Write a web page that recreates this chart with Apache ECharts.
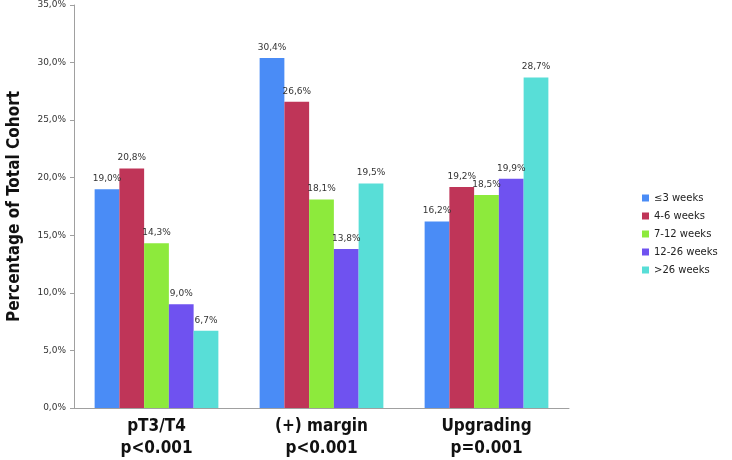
<!DOCTYPE html>
<html>
<head>
<meta charset="utf-8">
<script src="https://cdn.jsdelivr.net/npm/echarts@6/dist/echarts.min.js"></script>
<style>
  html, body { margin: 0; padding: 0; background: #fff; }
  #chart { width: 732px; height: 460px; }
</style>
</head>
<body>
<div id="chart"></div>
<script>
// categories and series
const categories = ['pT3/T4\np<0.001', '(+) margin\np<0.001', 'Upgrading\np=0.001'];
const seriesNames = ['≤3 weeks', '4-6 weeks', '7-12 weeks', '12-26 weeks', '>26 weeks'];
const seriesColors = ['#4a8cf6', '#bf3558', '#8dea3c', '#6f52f0', '#58ded7'];
const w3 = [19.0, 30.4, 16.2];
const w4to6 = [20.8, 26.6, 19.2];
const w7to12 = [14.3, 18.1, 18.5];
const w12to26 = [9.0, 13.8, 19.9];
const wOver26 = [6.7, 19.5, 28.7];
const values = [w3, w4to6, w7to12, w12to26, wOver26];

const fmt = v => v.toFixed(1).replace('.', ',') + '%';
const narrow = 'DejaVu Sans';

const chart = echarts.init(document.getElementById('chart'));
chart.setOption({
  animation: false,
  grid: { left: 74, right: 163, top: 5, bottom: 52, outerBoundsMode: 'none' },
  legend: {
    orient: 'vertical',
    left: 637,
    top: 188,
    itemWidth: 7,
    itemHeight: 7,
    itemGap: 8,
    icon: 'rect',
    textStyle: { fontFamily: 'DejaVu Sans', fontSize: 10, color: '#222' },
    data: seriesNames
  },
  xAxis: {
    type: 'category',
    data: categories,
    axisLine: { lineStyle: { color: '#a0a0a0' } },
    axisTick: { show: false },
    axisLabel: {
      margin: 8,
      color: '#111',
      fontFamily: narrow,
      fontWeight: 'bold condensed',
      fontSize: 17,
      lineHeight: 22
    }
  },
  yAxis: {
    type: 'value',
    min: 0,
    max: 35,
    interval: 5,
    name: 'Percentage of Total Cohort',
    nameLocation: 'middle',
    nameGap: 51,
    nameTextStyle: {
      color: '#111',
      fontFamily: narrow,
      fontWeight: 'bold condensed',
      fontSize: 17
    },
    axisLine: { show: true, lineStyle: { color: '#a0a0a0' } },
    axisTick: { show: true, length: 4, lineStyle: { color: '#a0a0a0' } },
    splitLine: { show: false },
    axisLabel: {
      color: '#333',
      fontFamily: 'DejaVu Sans',
      fontSize: 9,
      margin: 8,
      formatter: v => fmt(v)
    }
  },
  series: seriesNames.map((name, i) => ({
    name: name,
    type: 'bar',
    data: values[i],
    barGap: '0%',
    barCategoryGap: '25%',
    itemStyle: { color: seriesColors[i] },
    label: {
      show: true,
      position: 'top',
      distance: 6,
      color: '#333',
      fontFamily: 'DejaVu Sans',
      fontSize: 9,
      formatter: p => fmt(p.value)
    }
  }))
});
</script>
</body>
</html>
